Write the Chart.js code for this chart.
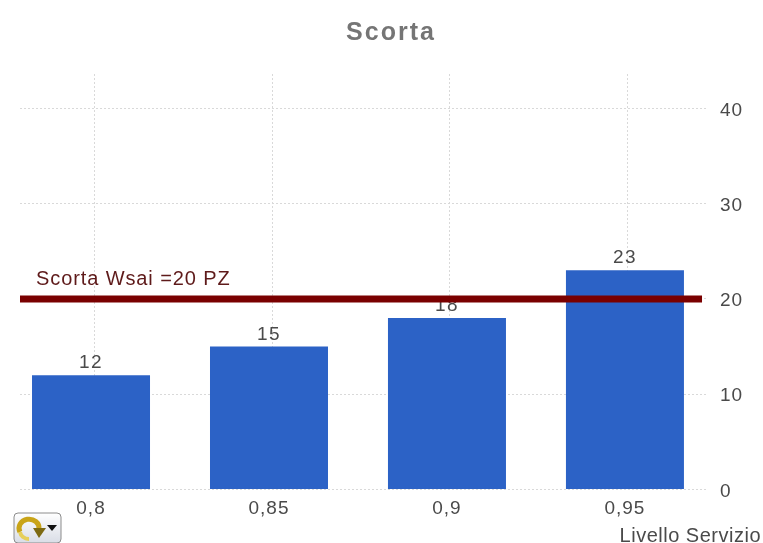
<!DOCTYPE html>
<html lang="it">
<head>
<meta charset="utf-8">
<title>Scorta</title>
<style>
  html, body { margin: 0; padding: 0; background: #fff; }
  #wrap { position: relative; width: 763px; height: 543px; overflow: hidden; }
  #menu { position: absolute; left: 13px; top: 512px; }
</style>
</head>
<body>
<div id="wrap">
  <canvas id="chart" width="763" height="543"></canvas>
  <!-- Small chart-menu button in the lower corner -->
  <svg id="menu" width="50" height="31" viewBox="0 0 50 31">
    <defs>
      <linearGradient id="btn" x1="0" y1="0" x2="0" y2="1">
        <stop offset="0" stop-color="#ffffff"/>
        <stop offset="1" stop-color="#d9dde6"/>
      </linearGradient>
    </defs>
    <rect x="1" y="1" width="47" height="30" rx="4" fill="url(#btn)" stroke="#8c8c8c"/>
    <path d="M7 20 A10 9 0 1 1 26 17" fill="none" stroke="#c9a418" stroke-width="5"/>
    <path d="M20 16 L33 16 L26 26 Z" fill="#7d6a12"/>
    <path d="M7 20 A9 8 0 0 0 16 27" fill="none" stroke="#e6cf5a" stroke-width="4"/>
    <path d="M34 13 L44 13 L39 19 Z" fill="#111"/>
  </svg>
</div>
<script src="https://cdn.jsdelivr.net/npm/chart.js@4/dist/chart.umd.js"></script>
<script>
const categories = ['0,8', '0,85', '0,9', '0,95'];
const stockValues = [12, 15, 18, 23];
const categoryPositions = [0, 1, 2, 3];
const yTickValues = [0, 10, 20, 30, 40];
const targetLevel = 20;
const targetLabel = 'Scorta Wsai =20 PZ';
const targetSpan = [-0.399, 3.433];
const xRange = [-0.399, 3.461];
const yMax = 43.6;
const gridShift = 0.017;
const titleText = 'Scorta';
const xAxisText = 'Livello Servizio';

const FONT = '"Liberation Sans", Arial, sans-serif';
const TEXT = '#4a4a4a';
const GRID = '#d9d9d9';

// Value captions go right after the bars, so the target line passes over them.
const barCaptions = {
  id: 'barCaptions',
  afterDatasetDraw(chart, args) {
    if (args.index !== 1) return;
    const ctx = chart.ctx;
    ctx.save();
    ctx.font = '19px ' + FONT;
    ctx.letterSpacing = '1.5px';
    ctx.fillStyle = TEXT;
    ctx.textAlign = 'center';
    ctx.textBaseline = 'alphabetic';
    args.meta.data.forEach((bar, i) => {
      ctx.fillText(String(stockValues[i]), bar.x, bar.y - 7);
    });
    ctx.restore();
  }
};

// Chart title, the text tied to the target line and the axis caption in the corner.
const annotations = {
  id: 'annotations',
  beforeDraw(chart) {
    chart.ctx.letterSpacing = '1px';
  },
  afterDraw(chart) {
    const ctx = chart.ctx;
    const { x, y } = chart.scales;
    ctx.save();
    ctx.letterSpacing = '2px';
    ctx.font = 'bold 25px ' + FONT;
    ctx.fillStyle = '#757575';
    ctx.textAlign = 'center';
    ctx.textBaseline = 'middle';
    ctx.fillText(titleText, 391, 33);

    ctx.textBaseline = 'alphabetic';
    ctx.font = '20px ' + FONT;
    ctx.letterSpacing = '0.9px';
    ctx.fillStyle = '#5e1a1a';
    ctx.textAlign = 'left';
    ctx.fillText(targetLabel, x.getPixelForValue(targetSpan[0]) + 16, y.getPixelForValue(targetLevel) - 14);

    ctx.letterSpacing = '0.5px';
    ctx.fillStyle = TEXT;
    ctx.textAlign = 'right';
    ctx.fillText(xAxisText, 761, 542);
    ctx.restore();
  }
};

new Chart(document.getElementById('chart'), {
  data: {
    datasets: [
      {
        type: 'line',
        order: 1,
        data: targetSpan.map(v => ({ x: v, y: targetLevel })),
        borderColor: '#7a0000',
        borderWidth: 7,
        borderCapStyle: 'butt',
        pointRadius: 0,
        xAxisID: 'x',
        yAxisID: 'y'
      },
      {
        type: 'bar',
        order: 2,
        data: categoryPositions.map((p, i) => ({ x: p, y: stockValues[i] })),
        backgroundColor: '#2c62c6',
        barPercentage: 0.663,
        categoryPercentage: 1,
        xAxisID: 'x',
        yAxisID: 'y'
      }
    ]
  },
  options: {
    responsive: false,
    animation: false,
    layout: { padding: { left: 20, right: 0, top: 74, bottom: 0 } },
    plugins: {
      legend: { display: false },
      tooltip: { enabled: false },
      title: { display: false }
    },
    scales: {
      x: {
        type: 'linear',
        offset: false,
        min: xRange[0],
        max: xRange[1],
        afterBuildTicks(scale) { scale.ticks = categoryPositions.map(value => ({ value })); },
        afterFit(scale) { scale.height = 53.5; },
        grid: { display: false },
        border: { display: false },
        ticks: {
          autoSkip: false,
          maxRotation: 0,
          padding: 0,
          color: TEXT,
          font: { family: FONT, size: 19 },
          callback: (value) => categories[value]
        }
      },
      // Vertical guides sit a touch to the right of the bar centres.
      guides: {
        type: 'linear',
        position: 'top',
        offset: false,
        min: xRange[0] - gridShift,
        max: xRange[1] - gridShift,
        afterBuildTicks(scale) { scale.ticks = categoryPositions.map(value => ({ value })); },
        afterFit(scale) { scale.height = 0; },
        border: { display: false, dash: [2, 2] },
        ticks: { display: false },
        grid: { color: GRID, lineWidth: 1, offset: false, drawTicks: false, tickLength: 0 }
      },
      y: {
        type: 'linear',
        position: 'right',
        min: 0,
        max: yMax,
        afterBuildTicks(scale) { scale.ticks = yTickValues.map(value => ({ value })); },
        afterFit(scale) { scale.width = 56; },
        border: { display: false, dash: [2, 2] },
        grid: { color: GRID, lineWidth: 1, drawTicks: false, tickLength: 0 },
        ticks: {
          includeBounds: false,
          padding: 13,
          labelOffset: 2,
          color: TEXT,
          font: { family: FONT, size: 19 }
        }
      }
    }
  },
  plugins: [barCaptions, annotations]
});
</script>
</body>
</html>
